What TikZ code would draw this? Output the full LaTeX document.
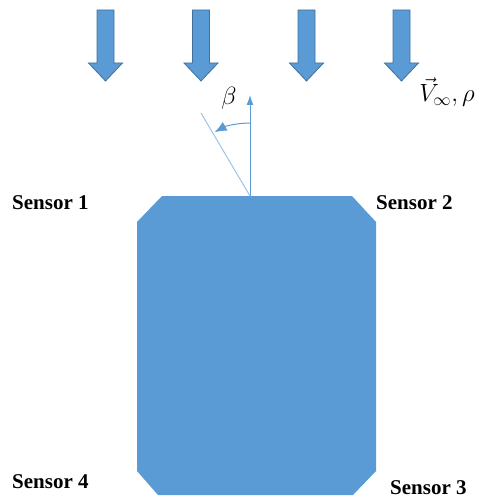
\documentclass[tikz,border=0pt]{standalone}
\usepackage{fontspec}
\setmainfont{Liberation Serif}
\usetikzlibrary{arrows.meta,calc}
\definecolor{bodyFill}{HTML}{5b9bd5}
\definecolor{flowStroke}{HTML}{41719c}
\definecolor{refLine}{HTML}{9dc3e6}

\begin{document}
\begin{tikzpicture}[
  x=1pt, y=-1pt,
  font=\fontsize{21}{24}\selectfont\bfseries,
  flow/.style  ={fill=bodyFill, draw=flowStroke, line width=0.8pt, line join=miter},
  hull/.style  ={fill=bodyFill, draw=none},
  sensor/.style={inner sep=0pt, anchor=west},
  axis/.style  ={-{Latex[length=10pt, width=7pt]}, bodyFill, line width=1pt},
  tilt/.style  ={refLine, line width=1pt},
  ang/.style   ={-{Latex[length=12pt, width=10pt]}, bodyFill, line width=1pt},
  lbl/.style   ={font=\fontsize{24}{28}\selectfont, inner sep=1pt},
]
\useasboundingbox (0,0) rectangle (485,500);

% ==================== Free stream arrows ====================
\foreach \x in {105.5,201,306.5,401.5} {
  \filldraw[flow] (\x-8.5,10) -- (\x+8.5,10) -- (\x+8.5,63) -- (\x+17,63)
    -- (\x,81) -- (\x-17,63) -- (\x-8.5,63) -- cycle;
}
\node[lbl] (vinf) at (447,92) {$\vec{V}_{\infty},\rho$};

% ==================== Body ====================
\fill[hull] (162,196) -- (352,196) -- (376,222) -- (376,471) -- (353,495)
  -- (158,495) -- (137,471) -- (137,222) -- cycle;
\coordinate (top) at (250,196);

% ==================== Angle ====================
\coordinate (up) at (250,95);
\coordinate (tiltend) at (201,113);
\draw[axis] (top) -- (up);
\draw[tilt] (top) -- (tiltend);
\draw[ang] ($(top)+(-90:73)$) arc[start angle=-90, end angle=-119, radius=73];
\node[lbl] (beta) at (229,98) {$\beta$};

% ==================== Sensors ====================
\node[sensor] (s1) at (12,203) {Sensor 1};
\node[sensor] (s2) at (376,203) {Sensor 2};
\node[sensor] (s3) at (390,488) {Sensor 3};
\node[sensor] (s4) at (12,482) {Sensor 4};

\end{tikzpicture}
\end{document}
